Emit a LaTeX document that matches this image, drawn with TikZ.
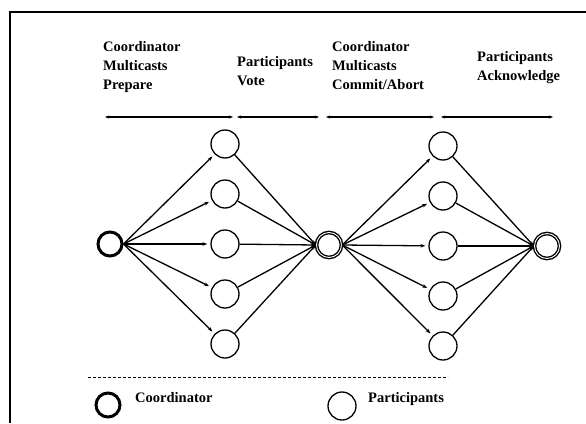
\documentclass[tikz,border=0pt]{standalone}
\usepackage{fontspec}
\setmainfont{Liberation Serif}
\usetikzlibrary{arrows.meta}
\begin{document}
\begin{tikzpicture}[x=1pt,y=-1pt,
  part/.style={circle,draw,line width=1.3pt,minimum size=28pt,inner sep=0pt},
  coord/.style={circle,draw,line width=3pt,minimum size=24pt,inner sep=0pt},
  coordd/.style={circle,draw,line width=1.4pt,double,double distance=0.9pt,minimum size=25pt,inner sep=0pt},
  edge/.style={line width=1.3pt,-{Stealth[length=5pt,width=3.5pt]}},
  phase/.style={line width=1.3pt,{Stealth[length=4pt,width=3pt]}-{Stealth[length=4pt,width=3pt]}},
  lbl/.style={font=\bfseries\fontsize{14.5}{19}\selectfont,align=left,inner sep=0pt,anchor=north west},
  leg/.style={font=\bfseries\fontsize{14.5}{19}\selectfont,inner sep=0pt,anchor=base west}]
\useasboundingbox (0,0) rectangle (586,423);
% frame
\coordinate (F1) at (10,423);
\coordinate (F2) at (10,12);
\coordinate (F3) at (586,12);
\draw[line width=1.5pt] (F1) -- (F2) -- (F3);
% phase labels
\node[lbl] (L1) at (103,41.5) {Coordinator\\Multicasts\\Prepare};
\node[lbl] (L2) at (237,56.5) {Participants\\Vote};
\node[lbl] (L3) at (332,41.5) {Coordinator\\Multicasts\\Commit/Abort};
\node[lbl] (L4) at (477,51.5) {Participants\\Acknowledge};
% phase arrows
\coordinate (a0) at (105,117);
\coordinate (a1) at (233,117);
\coordinate (a2) at (237,117);
\coordinate (a3) at (319,117);
\coordinate (a4) at (326,117);
\coordinate (a5) at (434,117);
\coordinate (a6) at (441,117);
\coordinate (a7) at (553,117);
\draw[phase] (a0) -- (a1);
\draw[phase] (a2) -- (a3);
\draw[phase] (a4) -- (a5);
\draw[phase] (a6) -- (a7);
% coordinators
\node[coord] (C1) at (110,244) {};
\node[coordd] (C2) at (329,245) {};
\node[coordd] (C3) at (547,246) {};
% participants
\foreach \i/\y in {1/144,2/194,3/244,4/294,5/344}{
  \node[part] (P\i) at (225,\y) {};
  \node[part] (Q\i) at (443,\y+2) {};
}
% edges
\foreach \i in {1,...,5}{
  \draw[edge,shorten >=3pt] (C1.east) -- (P\i);
  \draw[edge] (P\i) -- (C2.west);
  \draw[edge,shorten >=3pt] (C2.east) -- (Q\i);
  \draw[edge] (Q\i) -- (C3.west);
}
% legend
\coordinate (D1) at (88,377);
\coordinate (D2) at (448,377);
\draw[line width=1pt,dash pattern=on 3pt off 2pt] (D1) -- (D2);
\node[coord] (LC) at (108,405) {};
\node[leg] (LCt) at (135,402) {Coordinator};
\node[part] (LP) at (342,406) {};
\node[leg] (LPt) at (368,402) {Participants};
\end{tikzpicture}
\end{document}
